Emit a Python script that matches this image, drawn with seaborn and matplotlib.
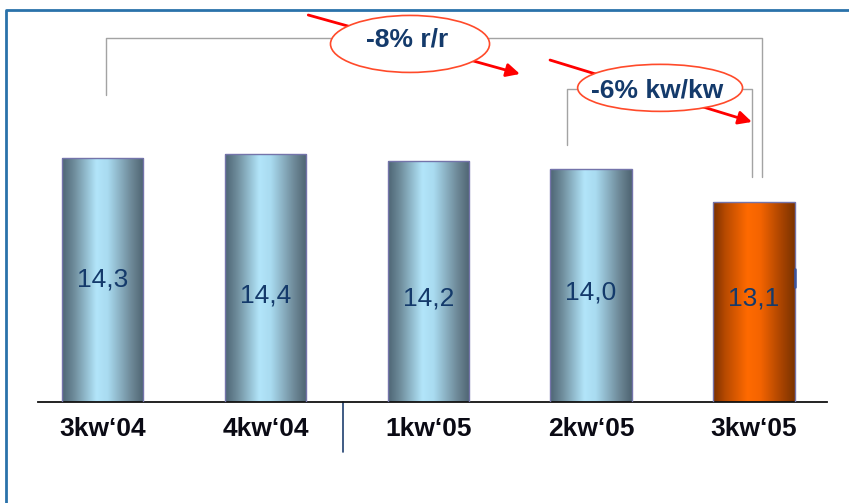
import numpy as np
import pandas as pd
import matplotlib
matplotlib.use("Agg")
import matplotlib.pyplot as plt
import seaborn as sns
from matplotlib.colors import LinearSegmentedColormap
from matplotlib.patches import Ellipse, FancyArrowPatch
from matplotlib.lines import Line2D

# Quarterly values
quarters = ["3kw\u201804", "4kw\u201804", "1kw\u201805", "2kw\u201805", "3kw\u201805"]
values = [14.3, 14.4, 14.2, 14.0, 13.1]
value_labels = ["14,3", "14,4", "14,2", "14,0", "13,1"]
highlight = [False, False, False, False, True]

# Vertical placement of the value labels inside the bars (data units)
label_y = [10.98, 10.55, 10.47, 10.63, 10.47]

sns.set_theme(style="white")
plt.rcParams["font.family"] = ["Liberation Sans", "DejaVu Sans"]

navy = "#143a6b"
blue_cmap = LinearSegmentedColormap.from_list(
    "cyl_blue",
    [(0.0, "#4d6574"), (0.15, "#6f8d9c"), (0.42, "#b2e5fa"),
     (0.56, "#a9dbf0"), (0.85, "#6d8897"), (1.0, "#4e6371")])
orange_cmap = LinearSegmentedColormap.from_list(
    "cyl_orange",
    [(0.0, "#7a3000"), (0.15, "#b84a00"), (0.42, "#ff6a00"),
     (0.58, "#f46400"), (0.85, "#a54200"), (1.0, "#7a3300")])

df = pd.DataFrame({"quarter": quarters, "value": values})
palette = {q: ("#ff6600" if h else "#9fd0e6") for q, h in zip(quarters, highlight)}

fig = plt.figure(figsize=(8.49, 5.03), dpi=100)
ax = fig.add_axes([0.04476, 0.2008, 0.9293, 0.7992])

sns.barplot(data=df, x="quarter", y="value", hue="quarter", palette=palette,
            width=0.5, errorbar=None, legend=False, ax=ax)

ybot, ytop = 7.63, 18.61
ax.set_ylim(ybot, ytop)
ax.set_xlim(-0.397, 4.449)

# Cylinder-like horizontal shading on each bar
grad = np.linspace(0, 1, 256).reshape(1, -1)
for patch, h in zip(ax.patches, highlight):
    x0 = patch.get_x()
    w = patch.get_width()
    top = patch.get_y() + patch.get_height()
    cmap = orange_cmap if h else blue_cmap
    im = ax.imshow(grad, cmap=cmap, aspect="auto",
                   extent=[x0, x0 + w, ybot, top], zorder=2.5,
                   interpolation="bicubic")
    im.set_clip_path(patch)
    patch.set_facecolor("none")
    patch.set_edgecolor("#7474aa")
    patch.set_linewidth(1.0)
    patch.set_zorder(3)

for i, (lab, ly) in enumerate(zip(value_labels, label_y)):
    ax.text(i, ly, lab, ha="center", va="center", fontsize=19,
            color=navy, zorder=5)

# Axes styling
for s in ["left", "right", "top"]:
    ax.spines[s].set_visible(False)
ax.spines["bottom"].set_color("#111111")
ax.spines["bottom"].set_linewidth(1.3)
ax.set_yticks([])
ax.set_xlabel("")
ax.set_ylabel("")
ax.tick_params(axis="x", length=0, pad=11)
ax.set_xticks(range(len(quarters)))
ax.set_xticklabels(quarters, fontsize=19, fontweight="bold", color="#0a0a14")
ax.patch.set_alpha(0)

# Divider between years
ax.plot([1.476, 1.476], [0, -0.124], transform=ax.get_xaxis_transform(),
        color="#1f3f70", lw=1.2, clip_on=False)

# Small marker next to the last bar
last = ax.patches[-1]
xr = last.get_x() + last.get_width()
ax.plot([xr + 0.004, xr + 0.004], [10.77, 11.27], color="#3a55a0", lw=1.8,
        zorder=4)

# Comparison brackets
gray = "#a3a3a3"
ax.plot([0.02, 0.02, 4.05, 4.05], [16.02, 17.58, 17.58, 13.78],
        color=gray, lw=1.0, zorder=1, clip_on=False)
ax.plot([2.852, 2.852, 3.988, 3.988], [14.65, 16.18, 16.18, 13.78],
        color=gray, lw=1.0, zorder=1, clip_on=False)

# Red arrows
for (xa, ya), (xb, yb) in [((1.263, 18.20), (2.563, 16.59)),
                           ((2.748, 16.97), (3.988, 15.28))]:
    arr = FancyArrowPatch((xa, ya), (xb, yb), arrowstyle="-|>",
                          mutation_scale=20, color="#ff0000", lw=2.0,
                          zorder=2, clip_on=False, shrinkA=0, shrinkB=0)
    ax.add_patch(arr)

# Change callouts
for (cx, cy, ew, eh), txt, (tx, ty) in [
        ((1.888, 17.41, 0.977, 1.557), "-8% r/r", (1.870, 17.52)),
        ((3.424, 16.21, 1.013, 1.284), "-6% kw/kw", (3.405, 16.13))]:
    ell = Ellipse((cx, cy), ew, eh, facecolor="white", edgecolor="#ff4a2a",
                  lw=1.2, zorder=3.5, clip_on=False)
    ax.add_patch(ell)
    ax.text(tx, ty, txt, ha="center", va="center", fontsize=19,
            fontweight="bold", color=navy, zorder=6)

# Slide frame
fig.add_artist(Line2D([0.0071, 0.0071, 1.0], [0.0, 0.980, 0.980],
                      transform=fig.transFigure, color="#2a72aa", lw=2.0))

fig.savefig("out.png", dpi=100)
